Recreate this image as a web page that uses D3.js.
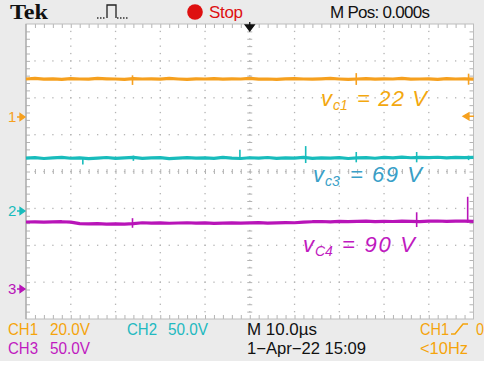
<!DOCTYPE html>
<html><head><meta charset="utf-8">
<script src="https://cdn.jsdelivr.net/npm/d3@7"></script>
<style>body{margin:0;background:#fff}svg{display:block}</style>
</head><body><svg id="c" width="484" height="367"></svg>
<script>
// ---- data ----
const timeUs = [0,2,4,6,8,10,12,14,16,18,20,22,24,26,28,30,32,34,36,38,40,42,44,46,48,50,52,54,56,58,60,62,64,66,68,70,72,74,76,78,80,82,84,86,88,90,92,94,96,98,100];
const ch1Volts = [20.6,20.9,20.5,20.7,20.4,20.8,20.6,20.5,20.9,20.7,
  20.6,20.4,20.8,20.6,20.7,20.5,20.9,20.6,20.4,20.7,
  20.6,20.8,20.5,20.7,20.6,20.9,20.5,20.6,20.4,20.7,
  20.8,20.6,20.5,20.7,20.9,20.6,20.4,20.6,20.8,20.5,
  20.7,20.6,20.9,20.5,20.6,20.7,20.4,20.8,20.6,20.7,20.5];
const ch2Volts = [71.6,72.4,71.2,71.9,72.8,71.5,72.1,71.0,71.8,72.5,
  71.3,72.0,72.6,71.4,71.9,72.3,71.1,71.7,72.4,71.6,
  72.1,71.3,72.7,71.8,71.2,72.2,71.6,72.5,71.4,72.0,
  71.7,72.6,71.3,72.1,71.8,72.4,71.2,71.9,72.3,71.5,
  72.6,72.0,73.0,72.2,72.6,72.3,72.9,72.1,72.7,72.4,72.8];
const ch3Volts = [90.8,91.1,90.6,90.9,91.2,90.7,
  88.6,88.2,88.5,87.9,88.4,88.0,88.6,
  89.8,89.3,89.6,89.1,89.5,89.8,89.2,89.6,89.0,89.4,89.7,89.3,89.6,89.9,89.4,89.7,90.1,89.8,
  90.6,91.2,91.5,91.0,91.8,91.3,91.6,92.0,91.4,91.8,91.5,92.1,91.7,91.4,91.9,92.2,91.6,91.9,92.0,91.7];
// glitches: [time µs, low V, high V]
const ch1Spikes = [[23.8,17.4,22.6],[73.8,17.4,23.8],[98.9,17.5,23.5]];
const ch2Spikes = [[12.7,63,72],[24.0,68,75],[47.8,70,83],[62.5,65,88],[73.8,66,80],[87.3,66,80],[98.9,69,75]];
const ch3Spikes = [[23.8,83,96],[87.3,84,104],[98.7,90,125]];
const channelNames = ["CH1","CH2","CH3"];
const voltsPerDiv = [20,50,50];
const groundDiv = [1.478,-1.071,-3.186];
const scaleLabels = ["20.0V","50.0V","50.0V"];
const annotations = [["c1","= 22 V"],["c3","= 69 V"],["C4","= 90 V"]];
const timebaseLabel = "M 10.0\u00B5s";
const dateLabel = "1\u2212Apr\u221222 15:09";
const posLabel = "M Pos: 0.000s";
const freqLabel = "<10Hz";

// ---- drawing ----
const svg = d3.select("#c");
const W=484,H=367;
const L=26,R=473.5,T=24,B=319;
const x = d3.scaleLinear([0,100],[L,R]);
const yDiv = d3.scaleLinear([-4,4],[B,T]);
const xDiv = d3.scaleLinear([0,10],[L,R]);
const colors = ["#f6a01e","#18bcbc","#b814b8"];
const textColors = ["#f5a40c","#22b9c0","#c01ac0"];
const annColors = ["#f3a80f","#3a9fc8","#c01ac0"];
const font = "'Liberation Sans', Arial, sans-serif";

svg.append("rect").attr("width",W).attr("height",361).attr("fill","#ebebeb");
svg.append("rect").attr("x",L).attr("y",T).attr("width",R-L).attr("height",B-T).attr("fill","#fff");

// grid dots
const g = svg.append("g").attr("fill","#b4b4b4");
for (let i=1;i<10;i++){
  for (let j=1;j<40;j++){
    g.append("rect").attr("x",xDiv(i)-0.6).attr("y",yDiv(-4+j*0.2)-0.6).attr("width",1.3).attr("height",1.3);
  }
}
for (let k=1;k<8;k++){
  for (let j=1;j<50;j++){
    g.append("rect").attr("x",xDiv(j*0.2)-0.6).attr("y",yDiv(-4+k)-0.6).attr("width",1.3).attr("height",1.3);
  }
}
// border ticks via axes
const minorX = d3.range(1,50).map(j=>j*0.2);
const minorY = d3.range(1,40).map(j=>-4+j*0.2);
const tickStyle = sel => { sel.select(".domain").remove(); sel.selectAll("line").attr("stroke","#b4b4b4"); sel.selectAll("text").remove(); };
svg.append("g").attr("transform",`translate(0,${T})`).call(d3.axisBottom(xDiv).tickValues(minorX).tickSize(4).tickFormat("")).call(tickStyle);
svg.append("g").attr("transform",`translate(0,${B})`).call(d3.axisTop(xDiv).tickValues(minorX).tickSize(4).tickFormat("")).call(tickStyle);
svg.append("g").attr("transform",`translate(${L},0)`).call(d3.axisRight(yDiv).tickValues(minorY).tickSize(4).tickFormat("")).call(tickStyle);
svg.append("g").attr("transform",`translate(${R},0)`).call(d3.axisLeft(yDiv).tickValues(minorY).tickSize(4).tickFormat("")).call(tickStyle);
// center axis ticks
svg.append("g").attr("transform",`translate(0,${yDiv(0)-2.5})`).call(d3.axisBottom(xDiv).tickValues(minorX).tickSize(5).tickFormat("")).call(tickStyle);
svg.append("g").attr("transform",`translate(${xDiv(5)-2.5},0)`).call(d3.axisRight(yDiv).tickValues(minorY).tickSize(5).tickFormat("")).call(tickStyle);
// border
svg.append("rect").attr("x",L).attr("y",T).attr("width",R-L).attr("height",B-T).attr("fill","none").attr("stroke","#bdbdbd").attr("stroke-width",1);
svg.append("line").attr("x1",L).attr("x2",L).attr("y1",T).attr("y2",B).attr("stroke","#a8a8a8").attr("stroke-width",1.2);

// traces
const series = [ch1Volts,ch2Volts,ch3Volts];
const spikes = [ch1Spikes,ch2Spikes,ch3Spikes];
series.forEach((vals,c)=>{
  const yv = v => yDiv(groundDiv[c] + v/voltsPerDiv[c]);
  const line = d3.line().x((d,i)=>x(timeUs[i])).y(d=>yv(d));
  svg.append("path").attr("d",line(vals)).attr("fill","none").attr("stroke",colors[c]).attr("stroke-width",3.2).attr("stroke-linejoin","round");
  svg.selectAll(null).data(spikes[c]).enter().append("line")
    .attr("x1",d=>x(d[0])).attr("x2",d=>x(d[0])).attr("y1",d=>yv(d[1])).attr("y2",d=>yv(d[2]))
    .attr("stroke",colors[c]).attr("stroke-width",1.6);
  // ground marker
  const gy = yDiv(groundDiv[c]);
  svg.append("text").attr("x",8).attr("y",gy+5.5).attr("font-family",font).attr("font-size",15).attr("fill",colors[c]).text(String(c+1));
  svg.append("path").attr("d",`M17,${gy}H21M20,${gy-3.5}L25,${gy}L20,${gy+3.5}Z`).attr("stroke",colors[c]).attr("stroke-width",1.3).attr("fill",colors[c]);
});
// trigger level arrow (ch1)
{
  const ty = yDiv(groundDiv[0] + 0.4/voltsPerDiv[0]) ;
  svg.append("path").attr("d",`M474,${ty}H468M469,${ty-3.5}L463,${ty}L469,${ty+3.5}Z`).attr("stroke",colors[0]).attr("stroke-width",1.3).attr("fill",colors[0]);
}
// trigger position arrow (top)
svg.append("path").attr("d",`M${xDiv(5)},22V27M${xDiv(5)-4.5},25H${xDiv(5)+4.5}L${xDiv(5)},31Z`).attr("stroke","#111").attr("stroke-width",1.3).attr("fill","#111");

// annotations
const annPos = [[321,106,357,70],[313,182,350,72],[303,251.5,342,73]];
annotations.forEach((a,c)=>{
  const [vx,by,ex,ew] = annPos[c];
  const t = svg.append("text").attr("x",vx).attr("y",by).attr("font-family",font).attr("font-style","italic").attr("font-size",22).attr("fill",annColors[c]);
  t.append("tspan").text("v");
  t.append("tspan").attr("dy",4).attr("dx",1).attr("font-size",14).text(a[0]);
  svg.append("text").attr("x",ex).attr("y",by).attr("font-family",font).attr("font-style","italic").attr("font-size",22).attr("fill",annColors[c])
    .attr("textLength",ew).attr("lengthAdjust","spacing").text(a[1]);
});

// header
svg.append("text").attr("x",10).attr("y",18.5).attr("font-family","'Liberation Serif','DejaVu Serif',serif").attr("font-weight","bold").attr("font-size",20).attr("fill","#111").attr("textLength",38).attr("lengthAdjust","spacingAndGlyphs").text("Tek");
svg.append("path").attr("d","M107,18V5H116V18").attr("fill","none").attr("stroke","#222").attr("stroke-width",1.3);
svg.append("path").attr("d","M97,18H106M117,18H128").attr("fill","none").attr("stroke","#333").attr("stroke-width",1.3).attr("stroke-dasharray","1.5,1.5");
svg.append("circle").attr("cx",195).attr("cy",12).attr("r",7.8).attr("fill","#de1010");
svg.append("text").attr("x",209).attr("y",17.5).attr("font-family",font).attr("font-size",17).attr("fill","#de1010").attr("textLength",34).text("Stop");
svg.append("text").attr("x",330).attr("y",17.5).attr("font-family",font).attr("font-size",17).attr("fill","#111").attr("textLength",100).text(posLabel);

// footer
const foot = (tx,xx,yy,col,len)=>svg.append("text").attr("x",xx).attr("y",yy).attr("font-family",font).attr("font-size",16).attr("fill",col).attr("textLength",len).attr("lengthAdjust","spacingAndGlyphs").text(tx);
const chX = [[8,335,50],[127,335,168],[8,354,50]];
channelNames.forEach((n,c)=>{
  foot(n,chX[c][0],chX[c][1],textColors[c],30);
  foot(scaleLabels[c],chX[c][2],chX[c][1],textColors[c],40);
});
foot(timebaseLabel,247,335,"#111",70);
foot(dateLabel,247,354,"#111",119);
foot(channelNames[0],420,335,textColors[0],29);
svg.append("path").attr("d","M451,334H455L463,324H468").attr("fill","none").attr("stroke",textColors[0]).attr("stroke-width",1.5);
foot("0",476,335,textColors[0],8);
foot(freqLabel,420,354,textColors[0],48);
</script></body></html>
